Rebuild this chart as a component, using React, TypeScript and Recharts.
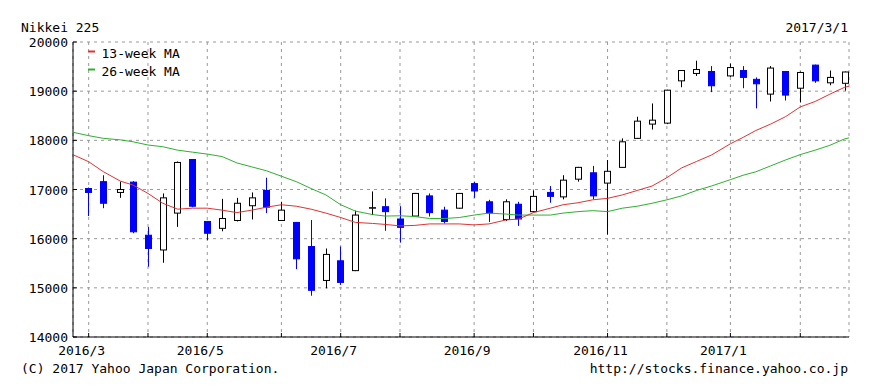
import { ComposedChart, Bar, Line, XAxis, YAxis, CartesianGrid } from "recharts";

const FONT = "'DejaVu Sans Mono', monospace";

// first trading day of each week
const weekStarts = [
  "2016-03-07", "2016-03-14", "2016-03-22", "2016-03-28",
  "2016-04-04", "2016-04-11", "2016-04-18", "2016-04-25",
  "2016-05-02", "2016-05-09", "2016-05-16", "2016-05-23", "2016-05-30",
  "2016-06-06", "2016-06-13", "2016-06-20", "2016-06-27",
  "2016-07-04", "2016-07-11", "2016-07-19", "2016-07-25",
  "2016-08-01", "2016-08-08", "2016-08-15", "2016-08-22", "2016-08-29",
  "2016-09-05", "2016-09-12", "2016-09-20", "2016-09-26",
  "2016-10-03", "2016-10-11", "2016-10-17", "2016-10-24", "2016-10-31",
  "2016-11-07", "2016-11-14", "2016-11-21", "2016-11-28",
  "2016-12-05", "2016-12-12", "2016-12-19", "2016-12-26",
  "2017-01-04", "2017-01-10", "2017-01-16", "2017-01-23", "2017-01-30",
  "2017-02-06", "2017-02-13", "2017-02-20", "2017-02-27",
];

const opens = [
  17020, 17160, 16940, 17150, 16070, 15770, 16520, 17610, 16350, 16210,
  16370, 16670, 16980, 16370, 16330, 15840, 15150, 15550, 15350, 16620,
  16650, 16400, 16460, 16870, 16580, 16620, 17120, 16750, 16390, 16700,
  16550, 16940, 16850, 17210, 17340, 17130, 17450, 18040, 18330, 18350,
  19210, 19360, 19400, 19310, 19420, 19240, 18940, 19400, 19060, 19530,
  19170, 19160,
];
const highs = [
  17040, 17290, 17160, 17170, 16240, 16920, 17570, 17620, 16360, 16810,
  16830, 16940, 17240, 16750, 16340, 16380, 15800, 15840, 16570, 16960,
  16820, 16660, 16930, 16920, 16650, 16930, 17160, 16790, 16800, 16750,
  16980, 17070, 17290, 17460, 17480, 17600, 18040, 18480, 18750, 19030,
  19420, 19620, 19510, 19560, 19510, 19280, 19510, 19410, 19400, 19540,
  19420, 19400,
];
const lows = [
  16460, 16620, 16830, 16110, 15430, 15510, 16240, 16640, 15970, 16150,
  16350, 16390, 16520, 16360, 15380, 14840, 14990, 15060, 15340, 16480,
  16160, 15920, 16450, 16450, 16310, 16610, 16830, 16340, 16360, 16260,
  16540, 16730, 16800, 17160, 16800, 16080, 17440, 18030, 18220, 18330,
  19080, 19310, 18980, 19290, 19060, 18650, 18790, 18810, 18770, 19170,
  19120, 19010,
];
const closes = [
  16940, 16720, 17000, 16140, 15800, 16830, 17550, 16660, 16110, 16410,
  16720, 16830, 16640, 16580, 15590, 14950, 15680, 15110, 16480, 16630,
  16550, 16230, 16920, 16530, 16350, 16920, 16970, 16520, 16750, 16400,
  16860, 16860, 17190, 17450, 16870, 17370, 17970, 18390, 18410, 19020,
  19420, 19440, 19110, 19480, 19280, 19150, 19470, 18920, 19380, 19210,
  19280, 19390,
];

// moving averages: one point before the first candle, one per week, one at the end
const maDates = ["2016-02-29", ...weekStarts, "2017-03-01"];
const ma13 = [
  17700,
  17565, 17360, 17170, 17090, 16920, 16720, 16600, 16620, 16620, 16580,
  16530, 16580, 16640, 16690, 16660, 16600, 16520, 16430, 16330, 16310,
  16290, 16260, 16270, 16300, 16300, 16300, 16280, 16300, 16380, 16400,
  16530, 16620, 16690, 16730, 16790, 16820, 16890, 16980, 17070, 17240,
  17440, 17570, 17700, 17930, 18060, 18200, 18330, 18480, 18680, 18790,
  18940, 19080,
  19100,
];
const ma26 = [
  18160,
  18095, 18040, 18010, 17970, 17905, 17870, 17800, 17760, 17720, 17670,
  17540, 17460, 17380, 17270, 17160, 17020, 16890, 16690, 16560, 16490,
  16460, 16465, 16450, 16410, 16410, 16430, 16480, 16520, 16500, 16480,
  16480, 16480, 16520, 16550, 16570, 16550, 16620, 16660, 16720, 16790,
  16870, 16980, 17070, 17200, 17290, 17360, 17480, 17600, 17710, 17800,
  17900, 18030,
  18050,
];

const monthTicks = [
  "2016-03-07", "2016-04-04", "2016-05-02", "2016-06-06", "2016-07-04", "2016-08-01",
  "2016-09-05", "2016-10-03", "2016-11-07", "2016-12-05", "2017-01-04", "2017-02-06",
];
const monthLabels = ["2016/3", "", "2016/5", "", "2016/7", "", "2016/9", "", "2016/11", "", "2017/1", ""];
const yTicks = [14000, 15000, 16000, 17000, 18000, 19000, 20000];

const BASE = Date.parse("2016-03-07");
const toDay = (s: string) => Math.round((Date.parse(s) - BASE) / 86400000);
const tickDays = monthTicks.map(toDay);
const xDomain = [-7.4, 359];

const data = maDates.map((s, k) => {
  const i = k - 1;
  const row: any = { d: toDay(s), ma13: ma13[k], ma26: ma26[k] };
  if (i >= 0 && i < weekStarts.length) {
    row.o = opens[i];
    row.h = highs[i];
    row.l = lows[i];
    row.c = closes[i];
    row.hl = [lows[i], highs[i]];
  }
  return row;
});

const BLUE = "#0000ff";

function Candle(props: any) {
  const { x, y, width, height, payload } = props;
  if (!payload || payload.o == null || !height) return null;
  const { o, h, l, c } = payload;
  const k = height / (h - l);
  const cx = Math.round(x + width / 2) + 0.5;
  const top = y + (h - Math.max(o, c)) * k;
  const bot = y + (h - Math.min(o, c)) * k;
  const up = c >= o;
  const col = up ? "#000" : BLUE;
  return (
    <g>
      <line x1={cx} x2={cx} y1={y} y2={y + height} stroke={col} />
      <rect
        x={cx - 3}
        y={top}
        width={6}
        height={Math.max(bot - top, 0.5)}
        fill={up ? "#fff" : BLUE}
        stroke={col}
      />
    </g>
  );
}

function BottomTick({ x, y, payload }: any) {
  const idx = tickDays.indexOf(payload.value);
  const lab = idx >= 0 ? monthLabels[idx] : "";
  return (
    <g>
      <line x1={x} x2={x} y1={y} y2={y - 4} stroke="#000" />
      {lab && (
        <text x={x - 7} y={y + 18} textAnchor="middle" fontFamily={FONT} fontSize={13} fill="#000">
          {lab}
        </text>
      )}
    </g>
  );
}

function TopTick({ x, y }: any) {
  return <line x1={x} x2={x} y1={y} y2={y + 4} stroke="#000" />;
}

function LeftTick({ x, y, payload }: any) {
  return (
    <g>
      <line x1={x} x2={x + 4} y1={y} y2={y} stroke="#000" />
      <text x={x - 5} y={y + 5} textAnchor="end" fontFamily={FONT} fontSize={13} fill="#000">
        {payload.value}
      </text>
    </g>
  );
}

function RightTick({ x, y }: any) {
  return <line x1={x} x2={x - 4} y1={y} y2={y} stroke="#000" />;
}

const txt = { fontFamily: FONT, fontSize: 13, fill: "#000" };

export default function App() {
  return (
    <div style={{ position: "relative", width: 870, height: 387, margin: -8, background: "#fff" }}>
      <ComposedChart
        width={870}
        height={387}
        data={data}
        margin={{ top: 42, right: 21, bottom: 20, left: 0 }}
      >
        <CartesianGrid stroke="#999" strokeDasharray="3 4" />
        <XAxis
          type="number"
          dataKey="d"
          domain={xDomain}
          allowDataOverflow
          ticks={tickDays}
          interval={0}
          tickLine={false}
          tickSize={0}
          tickMargin={0}
          axisLine={{ stroke: "#000" }}
          height={30}
          tick={<BottomTick />}
        />
        <XAxis
          xAxisId="top"
          orientation="top"
          type="number"
          dataKey="d"
          domain={xDomain}
          allowDataOverflow
          ticks={tickDays}
          interval={0}
          tickLine={false}
          tickSize={0}
          tickMargin={0}
          axisLine={{ stroke: "#000" }}
          height={0}
          tick={<TopTick />}
        />
        <YAxis
          type="number"
          domain={[14000, 20000]}
          allowDataOverflow
          ticks={yTicks}
          interval={0}
          tickLine={false}
          tickSize={0}
          tickMargin={0}
          axisLine={{ stroke: "#000" }}
          width={73}
          tick={<LeftTick />}
        />
        <YAxis
          yAxisId="r"
          orientation="right"
          type="number"
          domain={[14000, 20000]}
          allowDataOverflow
          ticks={yTicks}
          interval={0}
          tickLine={false}
          tickSize={0}
          tickMargin={0}
          axisLine={{ stroke: "#000" }}
          width={0}
          tick={<RightTick />}
        />
        <Line dataKey="ma26" stroke="#2fb02f" strokeWidth={1} dot={false} isAnimationActive={false} />
        <Line dataKey="ma13" stroke="#e03333" strokeWidth={1} dot={false} isAnimationActive={false} />
        <Bar dataKey="hl" barSize={7} shape={(p: any) => <Candle {...p} />} isAnimationActive={false} />
      </ComposedChart>
      <svg
        width={870}
        height={387}
        style={{ position: "absolute", left: 0, top: 0, pointerEvents: "none" }}
      >
        <text x={21} y={31.5} {...txt}>Nikkei 225</text>
        <text x={848} y={31.5} textAnchor="end" {...txt}>2017/3/1</text>
        <line x1={88} x2={95} y1={51.5} y2={51.5} stroke="#e03333" strokeWidth={2} />
        <text x={101.5} y={58} {...txt}>13-week MA</text>
        <line x1={88} x2={95} y1={69.5} y2={69.5} stroke="#2fb02f" strokeWidth={2} />
        <text x={101.5} y={76} {...txt}>26-week MA</text>
        <text x={21} y={373} {...txt}>(C) 2017 Yahoo Japan Corporation.</text>
        <text x={848} y={373} textAnchor="end" {...txt}>http://stocks.finance.yahoo.co.jp</text>
      </svg>
    </div>
  );
}
